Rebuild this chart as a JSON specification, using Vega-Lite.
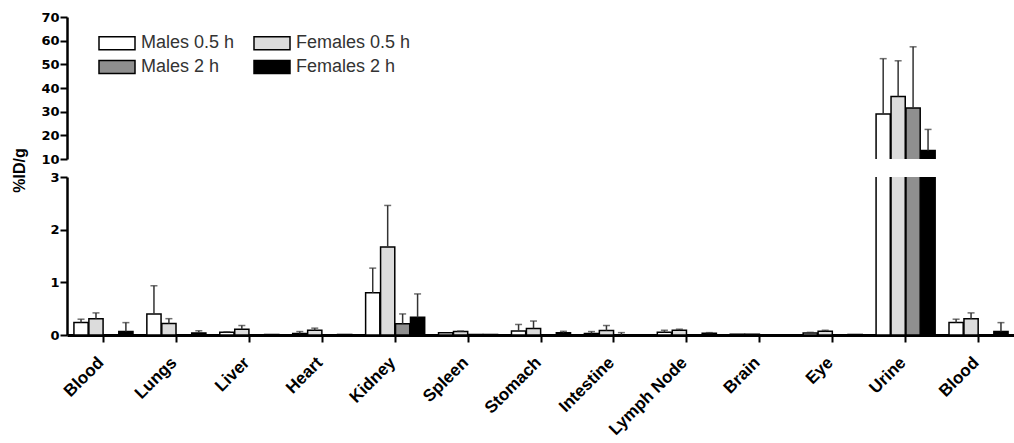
{
  "$schema": "https://vega.github.io/schema/vega-lite/v6.json",
  "background": "white",
  "padding": {"left": 11, "top": 11, "right": 0, "bottom": 0},
  "bounds": "flush",
  "spacing": 18,
  "config": {
    "view": {"stroke": null},
    "axis": {
      "grid": false,
      "domainColor": "black",
      "domainWidth": 2.5,
      "tickColor": "black",
      "tickWidth": 2,
      "tickSize": 7,
      "labelFont": "DejaVu Sans",
      "labelFontWeight": "bold",
      "labelFontSize": 13,
      "labelColor": "black",
      "labelPadding": 1,
      "labelOverlap": false
    }
  },
  "data": {
    "values": [
      {"organ": "Blood", "group": "Males 0.5 h", "mean": 0.235, "hi": 0.30},
      {"organ": "Blood", "group": "Females 0.5 h", "mean": 0.31, "hi": 0.42},
      {"organ": "Blood", "group": "Males 2 h", "mean": 0, "hi": null},
      {"organ": "Blood", "group": "Females 2 h", "mean": 0.065, "hi": 0.235},
      {"organ": "Lungs", "group": "Males 0.5 h", "mean": 0.40, "hi": 0.935},
      {"organ": "Lungs", "group": "Females 0.5 h", "mean": 0.22, "hi": 0.31},
      {"organ": "Lungs", "group": "Males 2 h", "mean": 0, "hi": null},
      {"organ": "Lungs", "group": "Females 2 h", "mean": 0.04, "hi": 0.08},
      {"organ": "Liver", "group": "Males 0.5 h", "mean": 0.05, "hi": 0.06},
      {"organ": "Liver", "group": "Females 0.5 h", "mean": 0.11, "hi": 0.18},
      {"organ": "Liver", "group": "Males 2 h", "mean": 0, "hi": null},
      {"organ": "Liver", "group": "Females 2 h", "mean": 0.01, "hi": null},
      {"organ": "Heart", "group": "Males 0.5 h", "mean": 0.03, "hi": 0.065},
      {"organ": "Heart", "group": "Females 0.5 h", "mean": 0.09, "hi": 0.13},
      {"organ": "Heart", "group": "Males 2 h", "mean": 0, "hi": null},
      {"organ": "Heart", "group": "Females 2 h", "mean": 0.01, "hi": null},
      {"organ": "Kidney", "group": "Males 0.5 h", "mean": 0.80, "hi": 1.27},
      {"organ": "Kidney", "group": "Females 0.5 h", "mean": 1.67, "hi": 2.46},
      {"organ": "Kidney", "group": "Males 2 h", "mean": 0.215, "hi": 0.40},
      {"organ": "Kidney", "group": "Females 2 h", "mean": 0.335, "hi": 0.78},
      {"organ": "Spleen", "group": "Males 0.5 h", "mean": 0.045, "hi": null},
      {"organ": "Spleen", "group": "Females 0.5 h", "mean": 0.065, "hi": 0.075},
      {"organ": "Spleen", "group": "Males 2 h", "mean": 0.01, "hi": null},
      {"organ": "Spleen", "group": "Females 2 h", "mean": 0.01, "hi": null},
      {"organ": "Stomach", "group": "Males 0.5 h", "mean": 0.075, "hi": 0.20},
      {"organ": "Stomach", "group": "Females 0.5 h", "mean": 0.125, "hi": 0.265},
      {"organ": "Stomach", "group": "Males 2 h", "mean": 0, "hi": null},
      {"organ": "Stomach", "group": "Females 2 h", "mean": 0.045, "hi": 0.07},
      {"organ": "Intestine", "group": "Males 0.5 h", "mean": 0.03, "hi": 0.065},
      {"organ": "Intestine", "group": "Females 0.5 h", "mean": 0.085, "hi": 0.18},
      {"organ": "Intestine", "group": "Males 2 h", "mean": 0.005, "hi": 0.045},
      {"organ": "Intestine", "group": "Females 2 h", "mean": 0, "hi": null},
      {"organ": "Lymph Node", "group": "Males 0.5 h", "mean": 0.05, "hi": 0.09},
      {"organ": "Lymph Node", "group": "Females 0.5 h", "mean": 0.09, "hi": 0.11},
      {"organ": "Lymph Node", "group": "Males 2 h", "mean": 0, "hi": null},
      {"organ": "Lymph Node", "group": "Females 2 h", "mean": 0.035, "hi": 0.045},
      {"organ": "Brain", "group": "Males 0.5 h", "mean": 0.015, "hi": null},
      {"organ": "Brain", "group": "Females 0.5 h", "mean": 0.015, "hi": null},
      {"organ": "Brain", "group": "Males 2 h", "mean": 0, "hi": null},
      {"organ": "Brain", "group": "Females 2 h", "mean": 0, "hi": null},
      {"organ": "Eye", "group": "Males 0.5 h", "mean": 0.04, "hi": 0.05},
      {"organ": "Eye", "group": "Females 0.5 h", "mean": 0.07, "hi": 0.09},
      {"organ": "Eye", "group": "Males 2 h", "mean": 0, "hi": null},
      {"organ": "Eye", "group": "Females 2 h", "mean": 0.01, "hi": null},
      {"organ": "Urine", "group": "Males 0.5 h", "mean": 29.0, "hi": 52.4},
      {"organ": "Urine", "group": "Females 0.5 h", "mean": 36.4, "hi": 51.5},
      {"organ": "Urine", "group": "Males 2 h", "mean": 31.5, "hi": 57.4},
      {"organ": "Urine", "group": "Females 2 h", "mean": 13.6, "hi": 22.5},
      {"organ": "Blood2", "group": "Males 0.5 h", "mean": 0.235, "hi": 0.30},
      {"organ": "Blood2", "group": "Females 0.5 h", "mean": 0.31, "hi": 0.42},
      {"organ": "Blood2", "group": "Males 2 h", "mean": 0, "hi": null},
      {"organ": "Blood2", "group": "Females 2 h", "mean": 0.065, "hi": 0.235}
    ]
  },
  "vconcat": [
    {
      "width": 948,
      "height": 142,
      "encoding": {
        "x": {"field": "organ", "type": "nominal", "sort": null, "scale": {"paddingInner": 0.19, "paddingOuter": 0.095}, "axis": null},
        "xOffset": {"field": "group", "type": "nominal", "scale": {"domain": ["Males 0.5 h", "Females 0.5 h", "Males 2 h", "Females 2 h"], "paddingInner": 0.05}}
      },
      "layer": [
        {
          "mark": {"type": "bar", "clip": true, "stroke": "black", "strokeWidth": 1.5},
          "encoding": {
            "y": {"field": "mean", "type": "quantitative", "scale": {"domain": [10, 70], "zero": false, "nice": false}, "axis": {"values": [10, 20, 30, 40, 50, 60, 70], "title": null, "labelOverlap": false}},
            "fill": {"field": "group", "type": "nominal", "scale": {"domain": ["Males 0.5 h", "Males 2 h", "Females 0.5 h", "Females 2 h"], "range": ["white", "#8f8f8f", "#dcdcdc", "black"]},
              "legend": {"orient": "none", "legendX": 41, "legendY": 17, "columns": 2, "title": null, "symbolType": "M-3,-1.08H3V1.08H-3Z", "symbolSize": 144, "symbolStrokeColor": "black", "symbolStrokeWidth": 1.5, "symbolOpacity": 1, "labelFont": "Liberation Sans", "labelFontSize": 18, "labelColor": "#333", "labelOffset": 15, "columnPadding": 16, "rowPadding": 4}}
          }
        },
        {
          "mark": {"type": "rule", "clip": true, "color": "#333", "strokeWidth": 1.5},
          "encoding": {"y": {"field": "mean", "type": "quantitative", "axis": {"values": [10, 20, 30, 40, 50, 60, 70], "title": null, "labelOverlap": false}}, "y2": {"field": "hi"}}
        },
        {
          "mark": {"type": "tick", "clip": true, "color": "#333", "thickness": 1.5, "size": 7},
          "encoding": {"y": {"field": "hi", "type": "quantitative", "axis": {"values": [10, 20, 30, 40, 50, 60, 70], "title": null, "labelOverlap": false}}}
        }
      ]
    },
    {
      "width": 948,
      "height": 158,
      "encoding": {
        "x": {"field": "organ", "type": "nominal", "sort": null, "scale": {"paddingInner": 0.19, "paddingOuter": 0.095},
          "axis": {"title": null, "labelExpr": "datum.value == 'Blood2' ? 'Blood' : datum.value", "labelAngle": -45, "labelAlign": "right", "labelBaseline": "top", "labelFont": "Liberation Sans", "labelFontSize": 17, "labelPadding": 12, "labelOffset": -8, "domainWidth": 3}},
        "xOffset": {"field": "group", "type": "nominal", "scale": {"domain": ["Males 0.5 h", "Females 0.5 h", "Males 2 h", "Females 2 h"], "paddingInner": 0.05}}
      },
      "layer": [
        {
          "mark": {"type": "bar", "clip": true, "stroke": "black", "strokeWidth": 1.5},
          "encoding": {
            "y": {"field": "mean", "type": "quantitative", "scale": {"domain": [0, 3], "nice": false}, "axis": {"values": [0, 1, 2, 3], "labelOverlap": false, "title": "%ID/g", "titleFont": "Liberation Sans", "titleFontSize": 16, "titleFontWeight": "bold", "titleColor": "black", "titleX": -40, "titleY": -7}},
            "fill": {"field": "group", "type": "nominal", "scale": {"domain": ["Males 0.5 h", "Males 2 h", "Females 0.5 h", "Females 2 h"], "range": ["white", "#8f8f8f", "#dcdcdc", "black"]},
              "legend": {"orient": "none", "legendX": 41, "legendY": 17, "columns": 2, "title": null, "symbolType": "M-3,-1.08H3V1.08H-3Z", "symbolSize": 144, "symbolStrokeColor": "black", "symbolStrokeWidth": 1.5, "symbolOpacity": 1, "labelFont": "Liberation Sans", "labelFontSize": 18, "labelColor": "#333", "labelOffset": 15, "columnPadding": 16, "rowPadding": 4}}
          }
        },
        {
          "mark": {"type": "rule", "clip": true, "color": "#333", "strokeWidth": 1.5},
          "encoding": {"y": {"field": "mean", "type": "quantitative", "axis": {"values": [0, 1, 2, 3], "labelOverlap": false, "title": "%ID/g", "titleFont": "Liberation Sans", "titleFontSize": 16, "titleFontWeight": "bold", "titleColor": "black", "titleX": -40, "titleY": -7}}, "y2": {"field": "hi"}}
        },
        {
          "mark": {"type": "tick", "clip": true, "color": "#333", "thickness": 1.5, "size": 7},
          "encoding": {"y": {"field": "hi", "type": "quantitative", "axis": {"values": [0, 1, 2, 3], "labelOverlap": false, "title": "%ID/g", "titleFont": "Liberation Sans", "titleFontSize": 16, "titleFontWeight": "bold", "titleColor": "black", "titleX": -40, "titleY": -7}}}
        }
      ]
    }
  ]
}
